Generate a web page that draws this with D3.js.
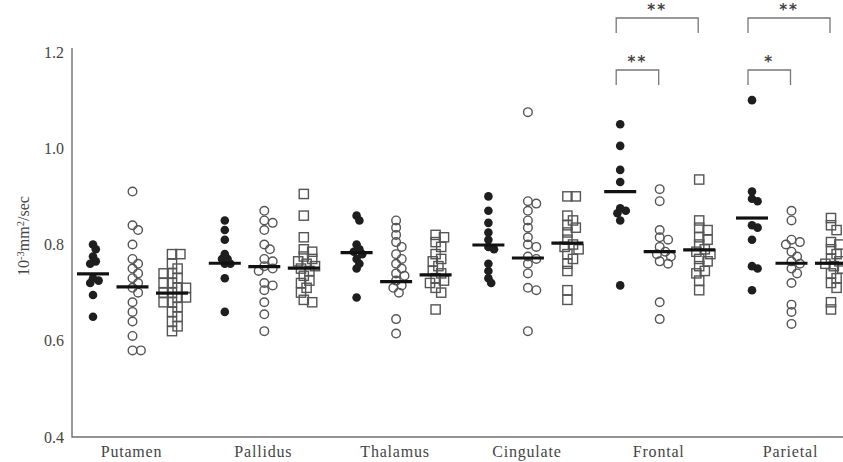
<!DOCTYPE html>
<html>
<head>
<meta charset="utf-8">
<script src="https://cdn.jsdelivr.net/npm/d3@7"></script>
<style>
  html, body { margin: 0; padding: 0; background: #fff; }
  svg { display: block; font-family: "Liberation Serif", "DejaVu Serif", serif; }
</style>
</head>
<body>
<svg id="chart" width="843" height="462"></svg>
<script>
// ---------- data ----------
const regions = ["Putamen", "Pallidus", "Thalamus", "Cingulate", "Frontal", "Parietal"];
const seriesNames = ["Group A", "Group B", "Group C"];   // filled circle, open circle, open square
const yTicks = [0.4, 0.6, 0.8, 1.0, 1.2];
const yLabel = ["10", "-3", "mm", "2", "/sec"];

const groupA = [
  [0.80, 0.79, 0.775, 0.765, 0.76, 0.73, 0.725, 0.72, 0.695, 0.65],
  [0.85, 0.83, 0.81, 0.78, 0.77, 0.77, 0.76, 0.76, 0.73, 0.66],
  [0.86, 0.85, 0.80, 0.79, 0.785, 0.78, 0.77, 0.76, 0.75, 0.69],
  [0.90, 0.87, 0.845, 0.825, 0.81, 0.795, 0.79, 0.76, 0.745, 0.73, 0.72],
  [1.05, 1.005, 0.955, 0.93, 0.875, 0.87, 0.865, 0.85, 0.715],
  [1.10, 0.91, 0.895, 0.89, 0.84, 0.835, 0.81, 0.755, 0.75, 0.705]
];
const groupB = [
  [0.91, 0.84, 0.83, 0.80, 0.77, 0.76, 0.75, 0.74, 0.73, 0.72, 0.71, 0.70, 0.68, 0.66, 0.64, 0.61, 0.58, 0.58],
  [0.87, 0.85, 0.845, 0.83, 0.80, 0.79, 0.77, 0.765, 0.755, 0.75, 0.745, 0.72, 0.715, 0.705, 0.68, 0.655, 0.62],
  [0.85, 0.835, 0.82, 0.805, 0.795, 0.78, 0.77, 0.76, 0.75, 0.74, 0.735, 0.725, 0.715, 0.71, 0.70, 0.645, 0.615],
  [1.075, 0.89, 0.885, 0.87, 0.85, 0.835, 0.815, 0.80, 0.795, 0.775, 0.77, 0.76, 0.74, 0.71, 0.705, 0.62],
  [0.915, 0.89, 0.83, 0.815, 0.81, 0.795, 0.785, 0.78, 0.775, 0.765, 0.76, 0.68, 0.645],
  [0.87, 0.85, 0.81, 0.805, 0.80, 0.785, 0.775, 0.765, 0.76, 0.75, 0.74, 0.72, 0.675, 0.66, 0.635]
];
const groupC = [
  [0.78, 0.78, 0.76, 0.75, 0.74, 0.74, 0.73, 0.72, 0.72, 0.71, 0.71, 0.70, 0.70, 0.69, 0.69, 0.68, 0.68, 0.67, 0.66, 0.65, 0.64, 0.63, 0.62],
  [0.905, 0.86, 0.815, 0.79, 0.785, 0.775, 0.77, 0.765, 0.76, 0.755, 0.75, 0.745, 0.735, 0.725, 0.72, 0.71, 0.70, 0.685, 0.68],
  [0.82, 0.815, 0.805, 0.795, 0.78, 0.77, 0.765, 0.755, 0.745, 0.74, 0.73, 0.725, 0.72, 0.71, 0.70, 0.665],
  [0.90, 0.90, 0.86, 0.85, 0.84, 0.835, 0.825, 0.81, 0.80, 0.795, 0.79, 0.78, 0.77, 0.76, 0.745, 0.705, 0.685],
  [0.935, 0.85, 0.835, 0.83, 0.815, 0.81, 0.80, 0.79, 0.785, 0.78, 0.77, 0.765, 0.755, 0.745, 0.74, 0.725, 0.705],
  [0.855, 0.84, 0.83, 0.805, 0.80, 0.79, 0.78, 0.77, 0.765, 0.76, 0.755, 0.75, 0.74, 0.73, 0.72, 0.71, 0.68, 0.665]
];
// group means as drawn (horizontal bars)
const meanA = [0.739, 0.761, 0.783, 0.799, 0.910, 0.855];
const meanB = [0.712, 0.754, 0.723, 0.772, 0.785, 0.761];
const meanC = [0.699, 0.751, 0.737, 0.803, 0.789, 0.761];

// significance brackets
const sigRegion = ["Frontal", "Frontal", "Parietal", "Parietal"];
const sigFrom   = ["Group A", "Group A", "Group A", "Group A"];
const sigTo     = ["Group C", "Group B", "Group C", "Group B"];
const sigLevel  = [1, 0, 1, 0];
const sigText   = ["**", "**", "**", "*"];

// ---------- layout ----------
const svg = d3.select("#chart");
const W = 843, H = 462;
const axisLeftX = 72, axisBottomY = 437, axisTopY = 52;

const y = d3.scaleLinear().domain([0.4, 1.2]).range([axisBottomY, axisTopY]);
const x = d3.scalePoint().domain(regions).range([131, 790]);
const xs = d3.scalePoint().domain(seriesNames).range([-38, 41]);

const allSeries = [groupA, groupB, groupC];
const allMeans = [meanA, meanB, meanC];
const textColor = "#454545";

// ---------- axes ----------
const yAxis = d3.axisLeft(y).tickValues(yTicks).tickFormat(d3.format(".1f")).tickSize(0).tickPadding(8);
const gy = svg.append("g").attr("transform", `translate(${axisLeftX},0)`).call(yAxis);
gy.select(".domain").remove();
gy.selectAll("text").attr("font-size", 16).attr("fill", textColor)
  .attr("font-family", "Liberation Serif, serif");

const xAxis = d3.axisBottom(x).tickSize(0).tickPadding(9);
const gx = svg.append("g").attr("transform", `translate(0,${axisBottomY})`).call(xAxis);
gx.select(".domain").remove();
gx.selectAll("text").attr("font-size", 16).attr("fill", textColor)
  .attr("letter-spacing", "0.8px").attr("font-family", "Liberation Serif, serif");

// axis lines
svg.append("path")
  .attr("d", `M${axisLeftX},${axisTopY - 4}V${axisBottomY}H${W}`)
  .attr("fill", "none").attr("stroke", "#6f6f6f").attr("stroke-width", 1.4);

// y label
const yl = svg.append("text")
  .attr("transform", `translate(29,${236}) rotate(-90)`)
  .attr("text-anchor", "middle")
  .attr("font-size", 16).attr("fill", textColor)
  .attr("font-family", "Liberation Serif, serif");
yLabel.forEach((s, i) => {
  const t = yl.append("tspan").text(s);
  if (i === 1 || i === 3) t.attr("font-size", 10.5).attr("baseline-shift", "super");
});

// ---------- beeswarm jitter ----------
function swarm(vals, minDist, step) {
  const pts = vals.map((v, i) => ({ v, i, py: y(v), dx: 0 }));
  const placed = [];
  const order = pts.slice().sort((a, b) => a.py - b.py);
  order.forEach(p => {
    const cands = [0];
    for (let s = 1; s < 12; s++) { cands.push(s * step, -s * step); }
    for (const c of cands) {
      const ok = placed.every(q => Math.hypot(q.dx - c, q.py - p.py) >= minDist);
      if (ok) { p.dx = c; break; }
    }
    placed.push(p);
  });
  return pts;
}

// ---------- points ----------
regions.forEach((reg, gi) => {
  seriesNames.forEach((sn, si) => {
    const cx = x(reg) + xs(sn);
    const pts = swarm(allSeries[si][gi], si === 0 ? 5.5 : 6.2, 2.8);
    const g = svg.append("g");
    if (si === 0) {
      g.selectAll("circle").data(pts).join("circle")
        .attr("cx", d => cx + d.dx).attr("cy", d => d.py).attr("r", 4.3)
        .attr("fill", "#1e1e1e");
    } else if (si === 1) {
      g.selectAll("circle").data(pts).join("circle")
        .attr("cx", d => cx + d.dx).attr("cy", d => d.py).attr("r", 4.3)
        .attr("fill", "none").attr("stroke", "#555").attr("stroke-width", 1.4);
    } else {
      g.selectAll("rect").data(pts).join("rect")
        .attr("x", d => cx + d.dx - 4.6).attr("y", d => d.py - 4.6)
        .attr("width", 9.2).attr("height", 9.2)
        .attr("fill", "none").attr("stroke", "#555").attr("stroke-width", 1.4);
    }
    // mean bar
    svg.append("line")
      .attr("x1", cx - 16).attr("x2", cx + 16)
      .attr("y1", y(allMeans[si][gi])).attr("y2", y(allMeans[si][gi]))
      .attr("stroke", "#111").attr("stroke-width", 3.2);
  });
});

// ---------- significance brackets ----------
const levelY = [70, 18];
sigRegion.forEach((reg, i) => {
  const x1 = x(reg) + xs(sigFrom[i]) - 4;
  const x2 = x(reg) + xs(sigTo[i]) - 1;
  const by = levelY[sigLevel[i]];
  svg.append("path")
    .attr("d", `M${x1},${by + 15}V${by}H${x2}V${by + 15}`)
    .attr("fill", "none").attr("stroke", "#777").attr("stroke-width", 1.3);
  svg.append("text")
    .attr("x", (x1 + x2) / 2).attr("y", by - 3)
    .attr("text-anchor", "middle").attr("font-size", 15).attr("font-weight", "bold")
    .attr("fill", "#444").attr("letter-spacing", "2px")
    .attr("font-family", "DejaVu Sans, sans-serif")
    .text(sigText[i]);
});
</script>
</body>
</html>
